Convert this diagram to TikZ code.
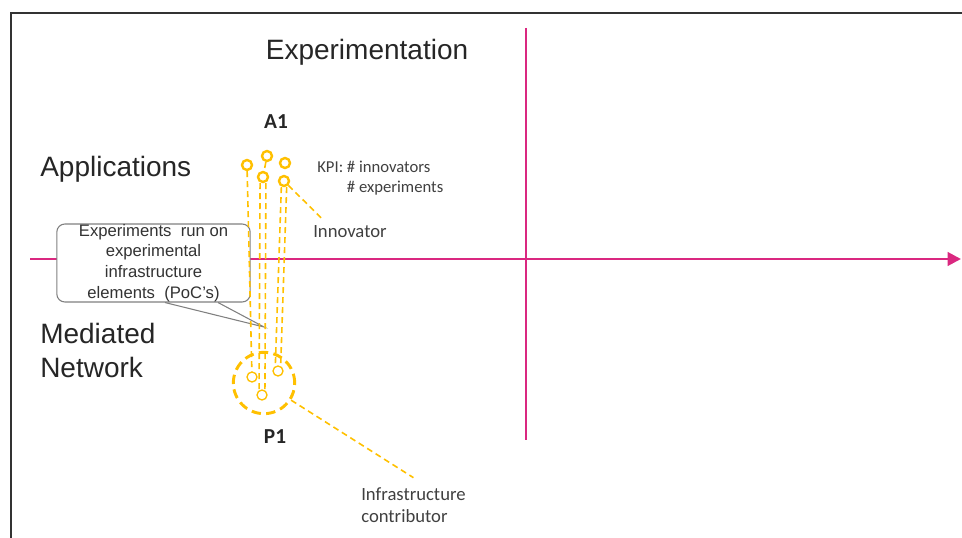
\documentclass[tikz,border=0pt]{standalone}
\usepackage{fontspec}
\setmainfont{Liberation Sans}
\newfontfamily\calibrifont{Carlito}
\usepackage{xcolor}
\usetikzlibrary{arrows.meta}

\definecolor{axismagenta}{RGB}{218,40,128}
\definecolor{gold}{RGB}{255,192,0}
\definecolor{darktext}{RGB}{64,64,64}

\begin{document}
\begin{tikzpicture}[x=0.75pt, y=-0.75pt,
        axis/.style={draw=axismagenta, line width=2.2pt},
        dashline/.style={draw=gold, line width=1.2pt, dash pattern=on 4.5pt off 3pt},
        aring/.style={circle, draw=gold, line width=1.8pt, minimum size=7.5pt, inner sep=0pt},
        pring/.style={circle, draw=gold, line width=1pt, minimum size=7.5pt, inner sep=0pt},
        bigtext/.style={font=\fontsize{21}{25.5}\selectfont, text=black!85, inner sep=0pt},
        smalltext/.style={font=\calibrifont\fontsize{14}{17}\selectfont, text=darktext, inner sep=0pt},
        boldlabel/.style={font=\calibrifont\bfseries\fontsize{16}{19}\selectfont, text=black!85, inner sep=0pt}]

        \useasboundingbox (0,0) rectangle (962,538);

        % frame
        \draw[line width=1.5pt, black!80] (11,538) -- (11,13) -- (962,13);

        % axes
        \coordinate (xleft) at (30,259);
        \coordinate (xright) at (961,259);
        \coordinate (ytop) at (526,28);
        \coordinate (ybottom) at (526,440);
        \draw[axis, -{Triangle[length=10pt, width=10pt]}] (xleft) -- (xright);
        \draw[axis] (ytop) -- (ybottom);

        % titles
        \node[bigtext] (experimentation) at (367,52) {Experimentation};
        \node[bigtext, anchor=west] (applications) at (40,169) {Applications};
        \node[bigtext, anchor=west, align=left] (mediated) at (40,350) {Mediated\\Network};

        % callout box
        \node[draw=gray, fill=white, rounded corners=6pt, line width=0.8pt, minimum width=145pt, minimum height=58.5pt,
            align=center, text=black!80, font=\fontsize{12.5}{15.5}\selectfont, inner sep=0pt] (callout) at (153.5,263)
            {Experiments\ \ run on\\experimental\\infrastructure\\elements\ \ (PoC's)};
        % pointer
        \coordinate (tip) at (264,327);
        \draw[gray, line width=0.8pt] ([xshift=8.6pt]callout.south) -- (tip) -- ([xshift=48.4pt]callout.south);

        % A1 circles
        \node[aring] (a1) at (247,165) {};
        \node[aring] (a2) at (267,156) {};
        \node[aring] (a3) at (285,163) {};
        \node[aring] (a4) at (263,177) {};
        \node[aring] (a5) at (284,181) {};
        % label
        \node[boldlabel] (alabel) at (276,122) {A1};

        % P1 ring
        \node[circle, draw=gold, line width=2.2pt, dash pattern=on 7pt off 4pt, minimum size=46pt] (ring) at (264,383) {};
        \node[pring] (p1) at (252,377) {};
        \node[pring] (p2) at (278,371) {};
        \node[pring] (p3) at (262,395) {};
        % label
        \node[boldlabel] (plabel) at (275,437) {P1};

        % dashed links A1 to P1
        \draw[dashline] (a1) -- (p1);
        \draw[dashline] (a2) -- (a4);
        \draw[dashline] ([xshift=-2.2pt]a4.south) -- ([xshift=-2.2pt]p3.north);
        \draw[dashline] ([xshift=2.2pt]a4.south) -- ([xshift=2.2pt]p3.north);
        \draw[dashline] ([xshift=-2pt]a5.south) -- ([xshift=-2pt]p2.north);
        \draw[dashline] ([xshift=2pt]a5.south) -- ([xshift=2pt]p2.north);

        % KPI
        \node[font=\calibrifont\fontsize{12.5}{15}\selectfont, text=darktext, anchor=north west, align=left, inner sep=0pt] (kpi)
            at (317,161) {KPI: \# innovators\\\phantom{KPI: }\# experiments};

        % innovator label
        \node[smalltext, anchor=base west] (innovator) at (313,237) {Innovator};
        % arrow
        \draw[dashline] (a5) -- ([shift={(9,-6)}]innovator.north west);

        % contributor label
        \node[smalltext, anchor=north west, align=left] (contributor) at (361,487) {Infrastructure\\contributor};
        % arrow
        \draw[dashline] (ring) -- ([yshift=7pt]contributor.north);

    \end{tikzpicture}
\end{document}
